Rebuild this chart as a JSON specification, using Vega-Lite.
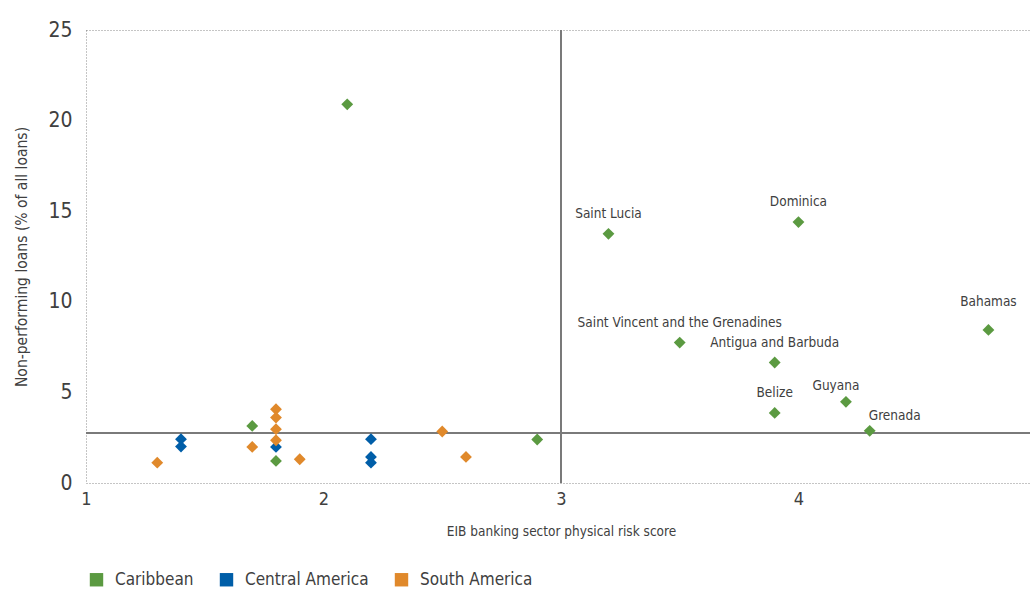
{
  "$schema": "https://vega.github.io/schema/vega-lite/v6.json",
  "autosize": {"type": "none"},
  "padding": {"left": 86, "top": 30, "right": 0, "bottom": 107},
  "width": 944,
  "height": 453,
  "config": {
    "font": "'DejaVu Sans Condensed', 'Liberation Sans Narrow', 'Open Sans', sans-serif",
    "view": {"stroke": "#8a8a8a", "strokeDash": [1, 2], "strokeWidth": 1},
    "axis": {"grid": false, "ticks": false, "domain": false, "labelColor": "#404040", "titleColor": "#404040", "titleFontWeight": "normal"},
    "text": {"font": "'DejaVu Sans Condensed', 'Liberation Sans Narrow', 'Open Sans', sans-serif"}
  },
  "data": {
    "values": [
      {"x": 2.1, "y": 20.9, "region": "Caribbean", "name": ""},
      {"x": 3.2, "y": 13.75, "region": "Caribbean", "name": "Saint Lucia"},
      {"x": 4.0, "y": 14.4, "region": "Caribbean", "name": "Dominica"},
      {"x": 4.8, "y": 8.45, "region": "Caribbean", "name": "Bahamas"},
      {"x": 3.5, "y": 7.75, "region": "Caribbean", "name": "Saint Vincent and the Grenadines"},
      {"x": 3.9, "y": 6.65, "region": "Caribbean", "name": "Antigua and Barbuda"},
      {"x": 3.9, "y": 3.87, "region": "Caribbean", "name": "Belize"},
      {"x": 4.2, "y": 4.48, "region": "Caribbean", "name": "Guyana"},
      {"x": 4.3, "y": 2.88, "region": "Caribbean", "name": "Grenada"},
      {"x": 2.9, "y": 2.4, "region": "Caribbean", "name": ""},
      {"x": 1.7, "y": 3.15, "region": "Caribbean", "name": ""},
      {"x": 1.8, "y": 1.22, "region": "Caribbean", "name": ""},
      {"x": 1.4, "y": 2.42, "region": "Central America", "name": ""},
      {"x": 1.4, "y": 2.01, "region": "Central America", "name": ""},
      {"x": 1.8, "y": 1.99, "region": "Central America", "name": ""},
      {"x": 2.2, "y": 2.42, "region": "Central America", "name": ""},
      {"x": 2.2, "y": 1.44, "region": "Central America", "name": ""},
      {"x": 2.2, "y": 1.12, "region": "Central America", "name": ""},
      {"x": 1.3, "y": 1.12, "region": "South America", "name": ""},
      {"x": 1.7, "y": 1.99, "region": "South America", "name": ""},
      {"x": 1.8, "y": 4.07, "region": "South America", "name": ""},
      {"x": 1.8, "y": 3.61, "region": "South America", "name": ""},
      {"x": 1.8, "y": 2.97, "region": "South America", "name": ""},
      {"x": 1.8, "y": 2.36, "region": "South America", "name": ""},
      {"x": 1.9, "y": 1.31, "region": "South America", "name": ""},
      {"x": 2.5, "y": 2.84, "region": "South America", "name": ""},
      {"x": 2.6, "y": 1.44, "region": "South America", "name": ""}
    ]
  },
  "layer": [
    {
      "mark": {"type": "rule", "color": "#7a7a7a", "strokeWidth": 1.5},
      "encoding": {"x": {"datum": 3, "type": "quantitative", "scale": {"domain": [1, 4.975]}}}
    },
    {
      "mark": {"type": "rule", "color": "#7a7a7a", "strokeWidth": 1.5},
      "encoding": {"y": {"datum": 2.78, "type": "quantitative", "scale": {"domain": [0, 25]}}}
    },
    {
      "mark": {"type": "point", "shape": "diamond", "filled": true, "size": 140, "opacity": 1},
      "encoding": {
        "x": {"field": "x", "type": "quantitative", "scale": {"domain": [1, 4.975], "nice": false},
              "axis": {"values": [1, 2, 3, 4], "format": "d", "title": "EIB banking sector physical risk score", "labelFontSize": 18, "labelPadding": 7, "titleFontSize": 13.5, "titlePadding": 16, "titleX": 475, "labelFlush": false}},
        "y": {"field": "y", "type": "quantitative", "scale": {"domain": [0, 25], "nice": false},
              "axis": {"values": [0, 5, 10, 15, 20, 25], "title": "Non-performing loans (% of all loans)", "labelFontSize": 21, "labelPadding": 14, "titleFontSize": 15.5, "titlePadding": 18}},
        "color": {"field": "region", "type": "nominal",
                  "scale": {"domain": ["Caribbean", "Central America", "South America"], "range": ["#5b9a41", "#005ea8", "#e0892b"]},
                  "legend": {"title": null, "orient": "none", "legendX": 2, "legendY": 541, "direction": "horizontal", "symbolType": "square", "symbolSize": 180, "symbolOpacity": 1, "labelFontSize": 17, "labelLimit": 400, "labelColor": "#404040", "labelOffset": 10, "columnPadding": 24, "symbolStrokeWidth": 0}}
      }
    },
    {
      "transform": [{"filter": "datum.name != '' && datum.name != 'Grenada' && datum.name != 'Bahamas' && datum.name != 'Guyana'"}],
      "mark": {"type": "text", "dy": -20, "fontSize": 13.5, "color": "#404040"},
      "encoding": {"x": {"field": "x", "type": "quantitative"}, "y": {"field": "y", "type": "quantitative"}, "text": {"field": "name"}}
    },
    {
      "transform": [{"filter": "datum.name == 'Bahamas'"}],
      "mark": {"type": "text", "dy": -28, "fontSize": 13.5, "color": "#404040"},
      "encoding": {"x": {"field": "x", "type": "quantitative"}, "y": {"field": "y", "type": "quantitative"}, "text": {"field": "name"}}
    },
    {
      "transform": [{"filter": "datum.name == 'Guyana'"}],
      "mark": {"type": "text", "dy": -16, "dx": -10, "fontSize": 13.5, "color": "#404040"},
      "encoding": {"x": {"field": "x", "type": "quantitative"}, "y": {"field": "y", "type": "quantitative"}, "text": {"field": "name"}}
    },
    {
      "transform": [{"filter": "datum.name == 'Grenada'"}],
      "mark": {"type": "text", "dy": -15, "dx": 25, "fontSize": 13.5, "color": "#404040"},
      "encoding": {"x": {"field": "x", "type": "quantitative"}, "y": {"field": "y", "type": "quantitative"}, "text": {"field": "name"}}
    }
  ]
}
